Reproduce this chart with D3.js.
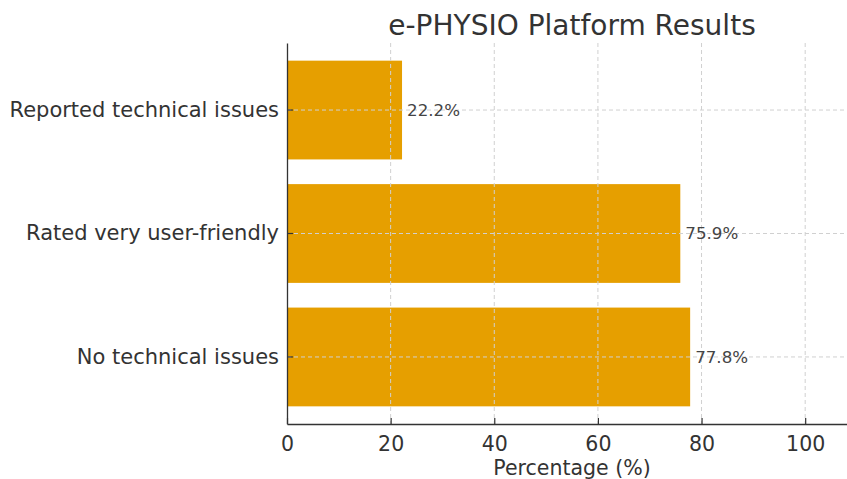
<!DOCTYPE html>
<html>
<head>
<meta charset="utf-8">
<script src="https://cdn.jsdelivr.net/npm/d3@7"></script>
<style>
  body { margin: 0; background: #fff; }
  svg { display: block; }
  svg text { font-family: 'DejaVu Sans', sans-serif; }
</style>
</head>
<body>
<svg id="chart" width="847" height="479"></svg>
<script>
// data
const categories = ['Reported technical issues', 'Rated very user-friendly', 'No technical issues'];
const values = [22.2, 75.9, 77.8];
const xTicks = [0, 20, 40, 60, 80, 100];

const margin = { top: 43, right: -10, bottom: 55, left: 287 };
const width = 847 - margin.left - margin.right;
const height = 479 - margin.top - margin.bottom;

const svg = d3.select('#chart');
const g = svg.append('g').attr('transform', `translate(${margin.left}, ${margin.top})`);

const x = d3.scaleLinear().domain([0, 110]).range([0, width]);
const y = d3.scaleBand()
  .domain(categories)
  .range([0, height])
  .paddingInner(0.2)
  .paddingOuter(0.143);

// bars
g.selectAll('.bar')
  .data(categories)
  .enter()
  .append('rect')
  .attr('class', 'bar')
  .attr('x', 0)
  .attr('y', d => y(d))
  .attr('width', (d, i) => x(values[i]))
  .attr('height', y.bandwidth())
  .attr('fill', '#e69f00');

// grid drawn over the bars, as in the original
const grid = g.append('g').attr('class', 'grid');
grid.selectAll('.vgrid')
  .data(xTicks.slice(1))
  .enter()
  .append('line')
  .attr('x1', d => x(d))
  .attr('x2', d => x(d))
  .attr('y1', 0)
  .attr('y2', height)
  .attr('stroke', '#d0d0d0')
  .attr('stroke-width', 1)
  .attr('stroke-dasharray', '4,3');
grid.selectAll('.hgrid')
  .data(categories)
  .enter()
  .append('line')
  .attr('x1', 0)
  .attr('x2', width)
  .attr('y1', d => y(d) + y.bandwidth() / 2)
  .attr('y2', d => y(d) + y.bandwidth() / 2)
  .attr('stroke', '#d0d0d0')
  .attr('stroke-width', 1)
  .attr('stroke-dasharray', '4,3');

// axes (ticks point inward)
const xAxis = g.append('g')
  .attr('transform', `translate(0, ${height})`)
  .call(d3.axisBottom(x).tickValues(xTicks).tickSizeInner(-6).tickSizeOuter(0).tickPadding(12));
const yAxis = g.append('g')
  .call(d3.axisLeft(y).tickSizeInner(-6).tickSizeOuter(0).tickPadding(8));

[xAxis, yAxis].forEach(a => {
  a.attr('font-family', null).attr('font-size', null);
  a.select('.domain').attr('stroke', '#333').attr('stroke-width', 1.3);
  a.selectAll('.tick line').attr('stroke', '#333').attr('stroke-width', 1.2);
  a.selectAll('.tick text').attr('fill', '#333');
});
xAxis.selectAll('.tick text').style('font-size', '20.5px').attr('dy', '0.75em');
yAxis.selectAll('.tick text').style('font-size', '21px');

// value labels
g.selectAll('.value')
  .data(categories)
  .enter()
  .append('text')
  .attr('x', (d, i) => x(values[i]) + 5)
  .attr('y', d => y(d) + y.bandwidth() / 2)
  .attr('dy', '0.35em')
  .attr('fill', '#444')
  .style('font-size', '16.7px')
  .text((d, i) => `${values[i]}%`);

// title and axis label
svg.append('text')
  .attr('x', margin.left + width / 2)
  .attr('y', 35)
  .attr('text-anchor', 'middle')
  .attr('fill', '#333')
  .style('font-size', '28px')
  .text('e-PHYSIO Platform Results');

svg.append('text')
  .attr('x', margin.left + width / 2)
  .attr('y', 475)
  .attr('text-anchor', 'middle')
  .attr('fill', '#333')
  .style('font-size', '20.5px')
  .text('Percentage (%)');
</script>
</body>
</html>
